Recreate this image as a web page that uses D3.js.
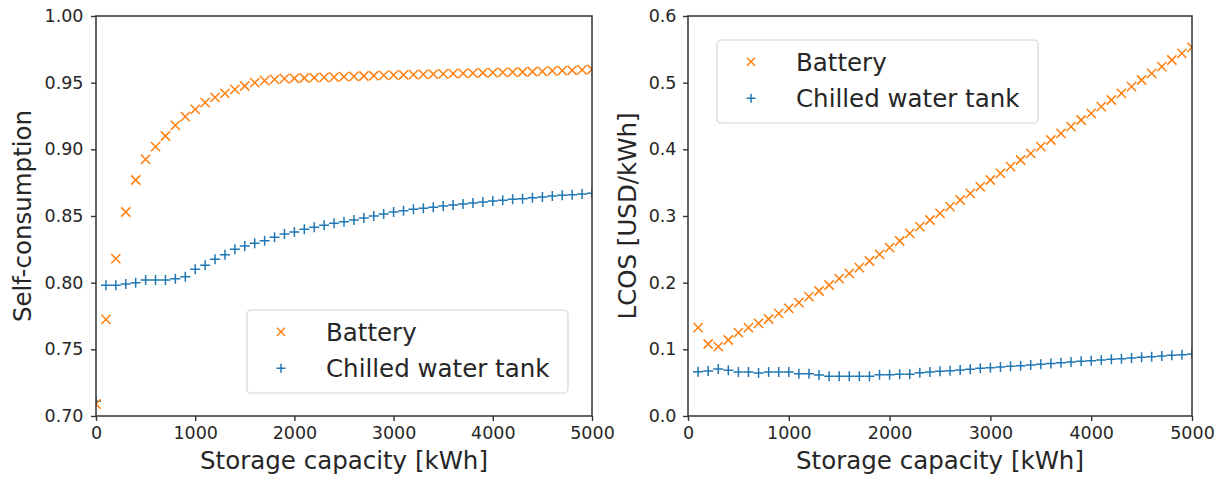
<!DOCTYPE html>
<html>
<head>
<meta charset="utf-8">
<script src="https://cdn.jsdelivr.net/npm/d3@7.9.0/dist/d3.min.js"></script>
<style>
  body { margin: 0; background: #fff; }
  svg { display: block; font-family: "DejaVu Sans", sans-serif; }
</style>
</head>
<body>
<svg id="chart"></svg>
<script>
const width = 1221;
const height = 477;

// Storage capacity [kWh]
const capacity = [0, 100, 200, 300, 400, 500, 600, 700, 800, 900,
  1000, 1100, 1200, 1300, 1400, 1500, 1600, 1700, 1800, 1900,
  2000, 2100, 2200, 2300, 2400, 2500, 2600, 2700, 2800, 2900,
  3000, 3100, 3200, 3300, 3400, 3500, 3600, 3700, 3800, 3900,
  4000, 4100, 4200, 4300, 4400, 4500, 4600, 4700, 4800, 4900, 5000];

// Self-consumption (left panel), one value per capacity
const batterySelf = [0.709, 0.7725, 0.818, 0.853, 0.877, 0.8925, 0.902, 0.910, 0.918, 0.9245,
  0.930, 0.935, 0.939, 0.942, 0.945, 0.9475, 0.950, 0.9515, 0.9525, 0.953,
  0.9533, 0.9535, 0.9537, 0.954, 0.9542, 0.9545, 0.9547, 0.955, 0.9552, 0.9555,
  0.9557, 0.9559, 0.956, 0.9562, 0.9564, 0.9566, 0.9568, 0.957, 0.9572, 0.9574,
  0.9575, 0.9577, 0.9579, 0.958, 0.9582, 0.9585, 0.9588, 0.959, 0.9593, 0.9596, 0.960];
const tankSelf = [0.711, 0.798, 0.798, 0.799, 0.800, 0.802, 0.802, 0.802, 0.803, 0.8045,
  0.810, 0.813, 0.8175, 0.821, 0.825, 0.8275, 0.8295, 0.8315, 0.834, 0.8365,
  0.838, 0.840, 0.8415, 0.843, 0.8445, 0.8457, 0.847, 0.8485, 0.850, 0.8515,
  0.853, 0.854, 0.855, 0.8558, 0.8566, 0.8575, 0.8583, 0.859, 0.8598, 0.8605,
  0.8612, 0.8618, 0.8625, 0.863, 0.8637, 0.8643, 0.865, 0.8655, 0.866, 0.8665, 0.867];

// LCOS [USD/kWh] (right panel), capacities 100..5000
const batteryLcos = [0.1325, 0.108, 0.104, 0.114, 0.125, 0.1325, 0.139, 0.1455, 0.154,
  0.1615, 0.170, 0.179, 0.1875, 0.1965, 0.206, 0.214, 0.2225, 0.2325, 0.2425,
  0.2525, 0.2625, 0.274, 0.284, 0.294, 0.304, 0.314, 0.324, 0.334, 0.344,
  0.354, 0.364, 0.374, 0.384, 0.394, 0.404, 0.414, 0.424, 0.434, 0.444,
  0.454, 0.464, 0.474, 0.484, 0.494, 0.504, 0.514, 0.524, 0.534, 0.544, 0.553];
const tankLcos = [0.0665, 0.0675, 0.0705, 0.0685, 0.066, 0.066, 0.0645, 0.066, 0.066,
  0.066, 0.0635, 0.0635, 0.0615, 0.0595, 0.0595, 0.0595, 0.0595, 0.0595, 0.062,
  0.062, 0.0625, 0.0625, 0.065, 0.066, 0.067, 0.068, 0.069, 0.070, 0.0715,
  0.0725, 0.0735, 0.0745, 0.0755, 0.0765, 0.0777, 0.0788, 0.080, 0.081, 0.082,
  0.083, 0.084, 0.085, 0.086, 0.087, 0.088, 0.089, 0.090, 0.091, 0.092, 0.093];

const xTicks = [0, 1000, 2000, 3000, 4000, 5000];
const selfTicks = [0.70, 0.75, 0.80, 0.85, 0.90, 0.95, 1.00];
const lcosTicks = [0.0, 0.1, 0.2, 0.3, 0.4, 0.5, 0.6];
const seriesNames = ["Battery", "Chilled water tank"];

const orange = "#ff7f0e";
const blue = "#1f77b4";
const ink = "#262626";

const svg = d3.select("#chart").attr("width", width).attr("height", height);
svg.append("rect").attr("width", width).attr("height", height).attr("fill", "#fff");

const crossPath = r => `M${-r},${-r}L${r},${r}M${-r},${r}L${r},${-r}`;
const plusPath = r => `M${-r},0L${r},0M0,${-r}L0,${r}`;

function drawPanel(opts) {
    const { id, x0, x1, y0, y1, yDomain, yTicks, yFmt, yLabel, yLabelX, xs, battery, tank, legend, tickPad } = opts;

    const x = d3.scaleLinear().domain([0, 5000]).range([x0, x1]);
    const y = d3.scaleLinear().domain(yDomain).range([y1, y0]);

    const g = svg.append("g");

    g.append("clipPath").attr("id", "clip-" + id)
        .append("rect").attr("x", x0).attr("y", y0).attr("width", x1 - x0).attr("height", y1 - y0);

    const marks = g.append("g").attr("clip-path", `url(#clip-${id})`);

    marks.selectAll("path.tank").data(xs.map((c, i) => [c, tank[i]]))
        .join("path").attr("class", "tank")
        .attr("transform", d => `translate(${x(d[0])},${y(d[1])})`)
        .attr("d", plusPath(5))
        .attr("stroke", blue).attr("stroke-width", 1.5).attr("fill", "none");

    marks.selectAll("path.battery").data(xs.map((c, i) => [c, battery[i]]))
        .join("path").attr("class", "battery")
        .attr("transform", d => `translate(${x(d[0])},${y(d[1])})`)
        .attr("d", crossPath(4.6))
        .attr("stroke", orange).attr("stroke-width", 1.5).attr("fill", "none");

    // axes
    const xAxis = g.append("g")
        .attr("transform", `translate(0,${y1})`)
        .call(d3.axisBottom(x).tickValues(xTicks).tickFormat(d3.format("d")).tickSize(5).tickPadding(6));
    const yAxis = g.append("g")
        .attr("transform", `translate(${x0},0)`)
        .call(d3.axisLeft(y).tickValues(yTicks).tickFormat(d3.format(yFmt)).tickSize(5).tickPadding(tickPad));

    [xAxis, yAxis].forEach(a => {
        a.select(".domain").remove();
        a.selectAll(".tick line").attr("stroke", "#333").attr("stroke-width", 1.4);
        a.selectAll(".tick text").attr("fill", ink).style("font-size", "17.5px").style("font-family", "DejaVu Sans");
    });

    // frame
    g.append("rect")
        .attr("x", x0).attr("y", y0).attr("width", x1 - x0).attr("height", y1 - y0)
        .attr("fill", "none").attr("stroke", "#333").attr("stroke-width", 1.5);

    // labels
    g.append("text")
        .attr("x", (x0 + x1) / 2).attr("y", 469)
        .attr("text-anchor", "middle")
        .attr("fill", ink).style("font-size", "24.5px")
        .text("Storage capacity [kWh]");

    g.append("text")
        .attr("transform", `translate(${yLabelX},${(y0 + y1) / 2}) rotate(-90)`)
        .attr("text-anchor", "middle")
        .attr("fill", ink).style("font-size", "24.5px")
        .text(yLabel);

    // legend
    const lg = g.append("g").attr("transform", `translate(${legend.x},${legend.y})`);
    lg.append("rect")
        .attr("width", legend.w).attr("height", legend.h)
        .attr("rx", 4).attr("ry", 4)
        .attr("fill", "#fff").attr("fill-opacity", 0.8)
        .attr("stroke", "#d6d6d6").attr("stroke-width", 1.2);

    const rowY = [21.7, 58.3];
    lg.append("path").attr("transform", `translate(34,${rowY[0]})`).attr("d", crossPath(4))
        .attr("stroke", orange).attr("stroke-width", 1.5).attr("fill", "none");
    lg.append("path").attr("transform", `translate(34,${rowY[1]})`).attr("d", plusPath(4.5))
        .attr("stroke", blue).attr("stroke-width", 1.5).attr("fill", "none");

    seriesNames.forEach((name, i) => {
        lg.append("text")
            .attr("x", 79).attr("y", rowY[i] + 9)
            .attr("fill", ink).style("font-size", "24.5px")
            .text(name);
    });
}

drawPanel({
    id: "self", x0: 96, x1: 592, y0: 16, y1: 416,
    yDomain: [0.70, 1.00], yTicks: selfTicks, yFmt: ".2f",
    yLabel: "Self-consumption", yLabelX: 31, tickPad: 7.5,
    xs: capacity, battery: batterySelf, tank: tankSelf,
    legend: { x: 247, y: 310, w: 321, h: 83 }
});

drawPanel({
    id: "lcos", x0: 688, x1: 1192, y0: 16, y1: 416,
    yDomain: [0, 0.6], yTicks: lcosTicks, yFmt: ".1f",
    yLabel: "LCOS [USD/kWh]", yLabelX: 636, tickPad: 6.5,
    xs: capacity.slice(1), battery: batteryLcos, tank: tankLcos,
    legend: { x: 717, y: 40, w: 321, h: 83 }
});
</script>
</body>
</html>
